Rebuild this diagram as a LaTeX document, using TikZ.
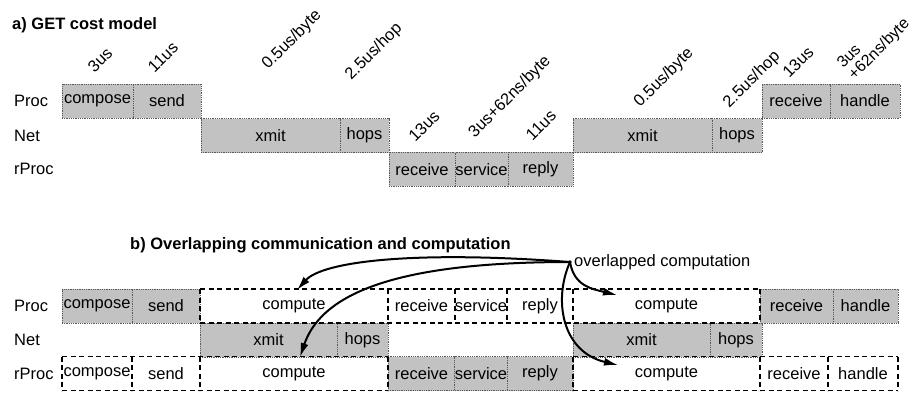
\documentclass[tikz,border=0pt]{standalone}
\usepackage{fontspec}
\setmainfont{Liberation Sans}
\usetikzlibrary{arrows.meta}
\tikzset{
  txt/.style={font=\fontsize{16.5}{19}\selectfont, inner sep=0pt},
  cell/.style={txt, minimum height=34pt, outer sep=0pt, anchor=center},
  shd/.style={cell, fill=black!24, draw=black!65, densely dotted, line width=0.8pt},
  dsh/.style={cell},
  dl/.style={draw=black, line width=1.8pt, dash pattern=on 5pt off 3.5pt},
  lbl/.style={txt, rotate=45},
  rowlbl/.style={txt, anchor=west},
  ttl/.style={font=\fontsize{16.5}{19}\selectfont\bfseries, inner sep=0pt, anchor=west},
  arr/.style={line width=2pt, -{Latex[length=14pt,width=8pt]}}
}
\begin{document}
\begin{tikzpicture}[x=1pt,y=-1pt]
\useasboundingbox (0,0) rectangle (912,392);
% ---------- part a ----------
\node[ttl] (ta) at (12,25) {a) GET cost model};
\node[rowlbl] (pa) at (14,101) {Proc};
\node[rowlbl] (na) at (14,136) {Net};
\node[rowlbl] (ra) at (14,169) {rProc};
\node[shd, minimum width=71pt] (a1) at (97.5,101) {compose};
\node[shd, minimum width=68pt] (a2) at (167,101) {send};
\node[shd, minimum width=139pt] (a3) at (270.5,135.5) {xmit};
\node[shd, minimum width=49pt] (a4) at (364.5,135.5) {hops};
\node[shd, minimum width=66pt] (a5) at (422,169.25) {receive};
\node[shd, minimum width=53pt] (a6) at (481.5,169.25) {service};
\node[shd, minimum width=65pt] (a7) at (540.5,169.25) {reply};
\node[shd, minimum width=139pt] (a8) at (642.5,135.5) {xmit};
\node[shd, minimum width=50pt] (a9) at (737,135.5) {hops};
\node[shd, minimum width=68pt] (a10) at (796,101) {receive};
\node[shd, minimum width=70pt] (a11) at (865,101) {handle};
% cost labels
\node[lbl] (l1) at (100,60) {3us};
\node[lbl] (l2) at (163,57) {11us};
\node[lbl] (l3) at (292,40) {0.5us/byte};
\node[lbl] (l4) at (374,52) {2.5us/hop};
\node[lbl] (l5) at (424,126) {13us};
\node[lbl] (l6) at (510,97) {3us+62ns/byte};
\node[lbl] (l7) at (541,125) {11us};
\node[lbl] (l8) at (664,78) {0.5us/byte};
\node[lbl] (l9) at (752,80) {2.5us/hop};
\node[lbl] (l10) at (798,62) {13us};
\node[lbl, align=left, font=\fontsize{16}{16}\selectfont] (l11) at (874,44) {3us\\+62ns/byte};
% ---------- part b ----------
\node[ttl] (tb) at (130,245) {b) Overlapping communication and computation};
\node[rowlbl] (pb) at (14,306) {Proc};
\node[rowlbl] (nb) at (14,340) {Net};
\node[rowlbl] (rb) at (14,373.5) {rProc};
% shaded cells
\node[shd, minimum width=70pt] (b1) at (97,306) {compose};
\node[shd, minimum width=68pt] (b2) at (166,306) {send};
\node[shd, minimum width=73pt] (b3) at (796.5,306) {receive};
\node[shd, minimum width=65pt] (b4) at (865.5,306) {handle};
\node[shd, minimum width=137pt] (b5) at (268.5,340) {xmit};
\node[shd, minimum width=51pt] (b6) at (362.5,340) {hops};
\node[shd, minimum width=137pt] (b7) at (641.5,340) {xmit};
\node[shd, minimum width=52pt] (b8) at (736,340) {hops};
\node[shd, minimum width=67pt] (b9) at (421.5,373.5) {receive};
\node[shd, minimum width=52pt] (b10) at (481,373.5) {service};
\node[shd, minimum width=66pt] (b11) at (540,373.5) {reply};
% dashed cells
\node[dsh, minimum width=188pt] (c1) at (294,306) {compute};
\node[dsh, minimum width=67pt] (c2) at (421.5,306) {receive};
\node[dsh, minimum width=52pt] (c3) at (481,306) {service};
\node[dsh, minimum width=66pt] (c4) at (540,306) {reply};
\node[dsh, minimum width=187pt] (c5) at (666.5,306) {compute};
\node[dsh, minimum width=70pt] (c6) at (97,373.5) {compose};
\node[dsh, minimum width=68pt] (c7) at (166,373.5) {send};
\node[dsh, minimum width=188pt] (c8) at (294,373.5) {compute};
\node[dsh, minimum width=187pt] (c9) at (666.5,373.5) {compute};
\node[dsh, minimum width=68pt] (c10) at (794,373.5) {receive};
\node[dsh, minimum width=70pt] (c11) at (863,373.5) {handle};
% dashed outlines
\draw[dl] (c1.north west) -- (c5.north east);
\draw[dl] (c1.south west) -- (c5.south east);
\foreach \n in {c1,c2,c3,c4,c5} \draw[dl] (\n.north west) -- (\n.south west);
\draw[dl] (c5.north east) -- (c5.south east);
\draw[dl] (c6.north west) -- (c8.north east);
\draw[dl] (c6.south west) -- (c8.south east);
\foreach \n in {c6,c7,c8} \draw[dl] (\n.north west) -- (\n.south west);
\draw[dl] (c8.north east) -- (c8.south east);
\draw[dl] (c9.north west) -- (c11.north east);
\draw[dl] (c9.south west) -- (c11.south east);
\foreach \n in {c9,c10,c11} \draw[dl] (\n.north west) -- (\n.south west);
\draw[dl] (c11.north east) -- (c11.south east);
% overlapped computation arrows
\coordinate (O) at (570,262);
\node[txt, anchor=west] (ov) at (574,262) {overlapped computation};
\fill (O) circle (1.8pt);
\coordinate (t1) at (297,290);
\coordinate (t2) at (300,357);
\coordinate (t3) at (617,295);
\coordinate (t4) at (618,365);
\draw[arr] (O) .. controls (410,250) and (322,262) .. (t1);
\draw[arr] (O) .. controls (400,262) and (322,292) .. (t2);
\draw[arr] (O) .. controls (574,286) and (592,289) .. (t3);
\draw[arr] (O) .. controls (553,300) and (562,352) .. (t4);
\end{tikzpicture}
\end{document}
